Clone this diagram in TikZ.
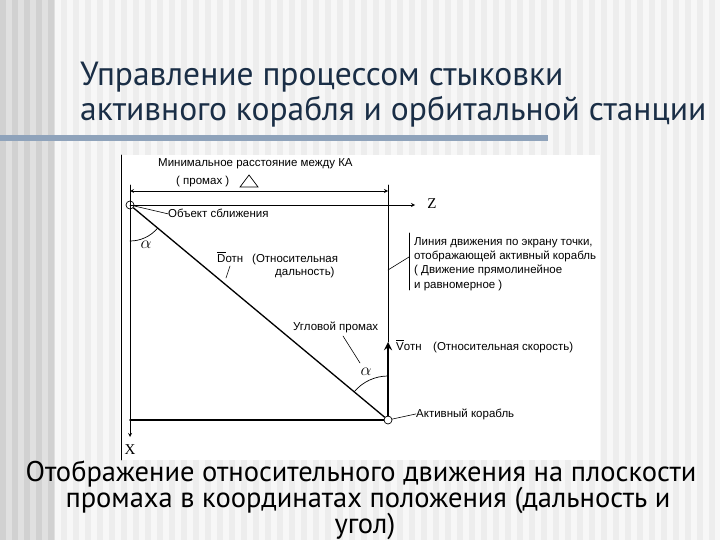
\documentclass[tikz,border=0pt]{standalone}
\usepackage{fontspec}
\setmainfont{Liberation Sans}
\newfontfamily\slidefont{PT Sans}
\newfontfamily\axisfont{Liberation Serif}
\definecolor{titleblue}{RGB}{26,46,70}
\definecolor{barblue}{RGB}{143,163,187}
\begin{document}
\begin{tikzpicture}[x=1pt,y=-1pt,>=stealth,line cap=round,
    lbl/.style={font=\fontsize{11.5}{13}\selectfont,inner sep=0pt,anchor=base west},
    axis/.style={->,line width=0.8pt},
    ring/.style={circle,draw,line width=0.7pt,inner sep=0pt,minimum size=8pt},
    greek/.style={font=\fontsize{16}{16}\selectfont,inner sep=0pt}]
  \useasboundingbox (0,0) rectangle (720,540);
  % background stripes
  \fill[black!7] (0,0) rectangle (720,540);
  \foreach \s in {55,67,...,715} \fill[black!3] (\s,0) rectangle ++(6,540);
  \fill[black!12] (0,0) rectangle (55,540);
  \foreach \s in {0,12,...,48} \fill[black!18] (\s,0) rectangle ++(6,540);
  \fill[barblue] (0,135) rectangle (548,141);
  % title
  \node[font=\slidefont\fontsize{33.5}{35}\selectfont,text=titleblue,inner sep=0pt,anchor=base west] (title1) at (80,86) {Управление процессом стыковки};
  \node[font=\slidefont\fontsize{33.5}{35}\selectfont,text=titleblue,inner sep=0pt,anchor=base west] (title2) at (80,121) {активного корабля и орбитальной станции};
  % panel
  \fill[white] (120,155) rectangle (600,460);
  \draw[line width=0.8pt] (121,155) -- (121,460);
  % points
  \coordinate (obj) at (130,205);
  \coordinate (ship) at (388,420);
  \node[ring] (objc) at (obj) {};
  \node[ring] (shipc) at (ship) {};
  % axes
  \coordinate (zend) at (415,205);
  \coordinate (xend) at (130,437);
  \draw[axis] (obj) -- (zend);
  \draw[axis] (obj) -- (xend);
  \node[font=\axisfont\fontsize{15}{15}\selectfont,inner sep=0pt] (zlbl) at (432,204) {Z};
  \node[font=\axisfont\fontsize{15}{15}\selectfont,inner sep=0pt] (xlbl) at (130,450) {X};
  % miss distance
  \node[lbl] (minlbl) at (158,167) {Минимальное расстояние между КА};
  \node[lbl] (promlbl) at (176,185) {( промах )};
  \draw[line width=0.7pt] (240,187) -- (249,175) -- (258,187) -- cycle;
  \coordinate (dimL) at (130,191);
  \coordinate (dimR) at (388,191);
  \draw[<->,line width=0.8pt] (dimL) -- (dimR);
  \draw[line width=0.8pt] (130,185) -- (obj);
  \coordinate (trackTop) at (388,185);
  \coordinate (vtip) at (388,342);
  \draw[line width=0.8pt] (trackTop) -- (vtip);
  % line of sight and bottom
  \coordinate (xfoot) at (130,420);
  \draw[line width=1.3pt] (objc) -- (shipc);
  \draw[line width=1.8pt] (xfoot) -- (shipc);
  \draw[->,line width=2.6pt] (shipc) -- (vtip);
  % angles
  \draw[line width=0.7pt] (obj) ++(90:36) arc[start angle=90,end angle=39.8,radius=36];
  \draw[line width=0.7pt] (ship) ++(270:44) arc[start angle=270,end angle=219.8,radius=44];
  \node[greek] (alpha1) at (146,245) {$\alpha$};
  \node[greek] (alpha2) at (366,372) {$\alpha$};
  % labels
  \node[lbl] (objlbl) at (168,218) {Объект сближения};
  \draw[line width=0.6pt] (objc) -- (objlbl.west);
  \node[lbl] (dlbl) at (217,262) {$\overline{\mbox{D}}$отн};
  \node[lbl] (dtxt1) at (252,262) {(Относительная};
  \node[lbl] (dtxt2) at (275,275) {дальность)};
  \coordinate (dlead1) at (226,278);
  \coordinate (dlead2) at (230,266);
  \draw[line width=0.6pt] (dlead1) -- (dlead2);
  \node[lbl] (anglbl) at (293,330) {Угловой промах};
  \coordinate (anglead) at (360,363);
  \draw[line width=0.6pt] (343,336) -- (anglead);
  \node[lbl] (vlbl) at (396,350) {$\overline{\mbox{V}}$отн};
  \node[lbl] (vtxt) at (433,350) {(Относительная скорость)};
  \node[lbl] (shiplbl) at (416,417) {Активный корабль};
  \draw[line width=0.6pt] (shipc) -- (shiplbl.west);
  % track note
  \coordinate (brTop) at (409,233);
  \coordinate (brBot) at (409,290);
  \draw[line width=0.6pt] (brTop) -- (brBot);
  \coordinate (trackPt) at (388,270);
  \coordinate (brPt) at (409,257);
  \draw[line width=0.6pt] (trackPt) -- (brPt);
  \node[lbl] (note1) at (414,245) {Линия движения по экрану точки,};
  \node[lbl] (note2) at (414,259) {отображающей активный корабль};
  \node[lbl] (note3) at (414,273) {( Движение прямолинейное};
  \node[lbl] (note4) at (414,288) {и равномерное )};
  % caption
  \node[font=\slidefont\fontsize{28.5}{28}\selectfont,inner sep=0pt,anchor=base] (cap1) at (361,481) {Отображение относительного движения на плоскости};
  \node[font=\slidefont\fontsize{28.5}{28}\selectfont,inner sep=0pt,anchor=base] (cap2) at (368,507) {промаха в координатах положения (дальность и};
  \node[font=\slidefont\fontsize{28.5}{28}\selectfont,inner sep=0pt,anchor=base] (cap3) at (365,533) {угол)};
\end{tikzpicture}
\end{document}
